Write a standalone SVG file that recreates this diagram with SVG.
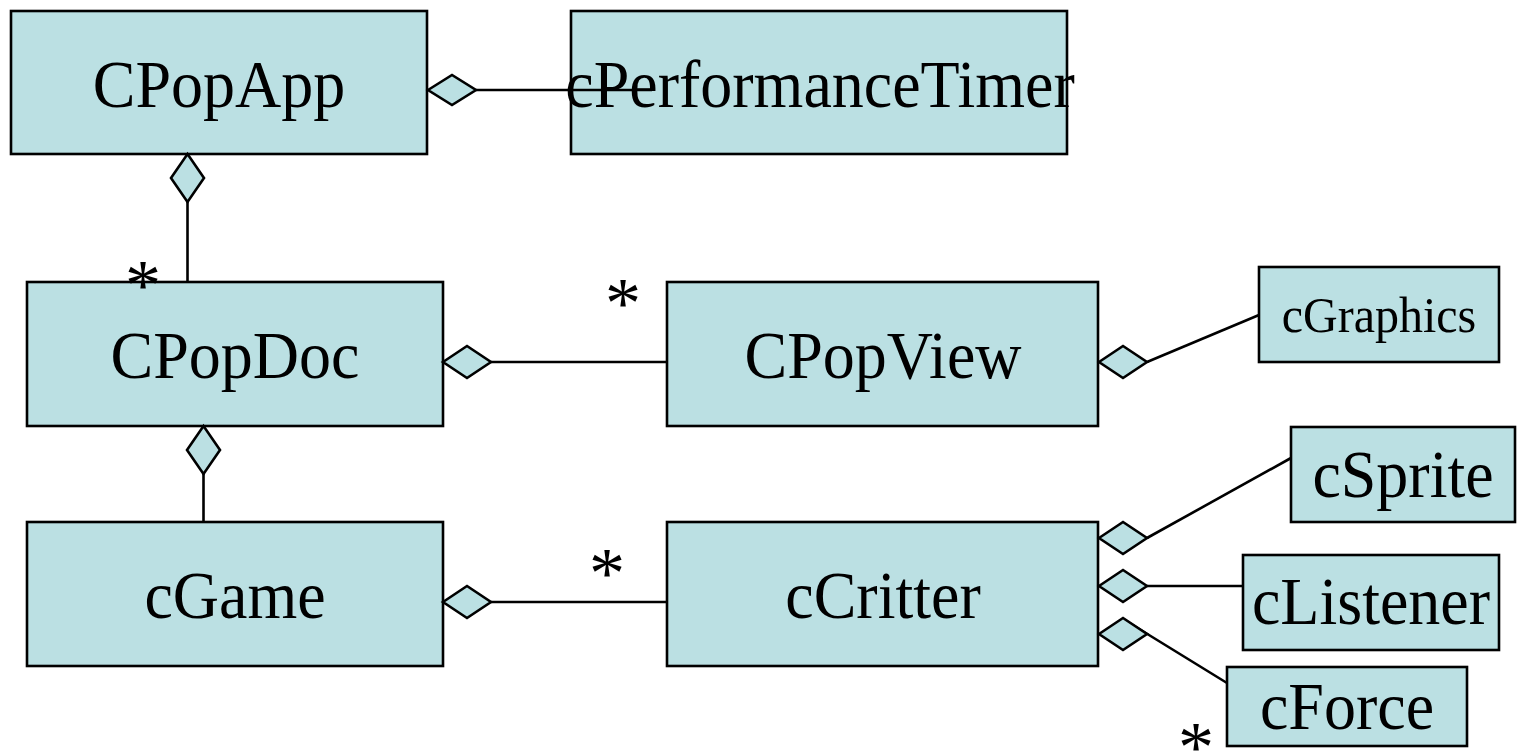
<svg xmlns="http://www.w3.org/2000/svg" width="1521" height="752" viewBox="0 0 1521 752">
  <style>
    .box { fill: #BBE0E3; stroke: #000; stroke-width: 2.6; }
    .lbl { font-family: "Liberation Serif", "Times New Roman", serif; font-size: 64px; fill: #000; text-anchor: middle; }
    .small { font-size: 48px; }
    .link { stroke: #000; stroke-width: 2.6; fill: none; }
    .dia { fill: #BBE0E3; stroke: #000; stroke-width: 2.6; stroke-linejoin: miter; }
    .mult { font-family: "Liberation Serif", "Times New Roman", serif; font-size: 72px; fill: #000; text-anchor: middle; }
  </style>
  <rect width="1521" height="752" fill="#fff"/>

  <!-- class boxes; labels are drawn slightly tall, as in the slide font -->
  <g id="CPopApp">
    <rect class="box" x="11" y="11" width="416" height="143"/>
    <text class="lbl" transform="translate(219,107) scale(1,1.07)">CPopApp</text>
  </g>
  <g id="cPerformanceTimer">
    <rect class="box" x="571" y="11" width="496" height="143"/>
    <text class="lbl" transform="translate(820,107) scale(1,1.07)">cPerformanceTimer</text>
  </g>
  <g id="CPopDoc">
    <rect class="box" x="27" y="282" width="416" height="144"/>
    <text class="lbl" transform="translate(235,378) scale(1,1.07)">CPopDoc</text>
  </g>
  <g id="CPopView">
    <rect class="box" x="667" y="282" width="431" height="144"/>
    <text class="lbl" transform="translate(883,378) scale(1,1.07)">CPopView</text>
  </g>
  <g id="cGraphics">
    <rect class="box" x="1259" y="267" width="240" height="95"/>
    <text class="lbl small" transform="translate(1379,332) scale(1,1.07)">cGraphics</text>
  </g>
  <g id="cGame">
    <rect class="box" x="27" y="522" width="416" height="144"/>
    <text class="lbl" transform="translate(235,618) scale(1,1.07)">cGame</text>
  </g>
  <g id="cCritter">
    <rect class="box" x="667" y="522" width="431" height="144"/>
    <text class="lbl" transform="translate(883,618) scale(1,1.07)">cCritter</text>
  </g>
  <g id="cSprite">
    <rect class="box" x="1291" y="427" width="224" height="95"/>
    <text class="lbl" transform="translate(1403,497) scale(1,1.07)">cSprite</text>
  </g>
  <g id="cListener">
    <rect class="box" x="1243" y="555" width="256" height="95"/>
    <text class="lbl" transform="translate(1371,624) scale(1,1.07)">cListener</text>
  </g>
  <g id="cForce">
    <rect class="box" x="1227" y="667" width="240" height="79"/>
    <text class="lbl" transform="translate(1347,729) scale(1,1.07)">cForce</text>
  </g>

  <!-- aggregation links: diamond at the owner's side -->
  <g id="connectors">
    <line class="link" x1="476" y1="90" x2="652" y2="90"/>
    <polygon class="dia" points="428,90 452,75 476,90 452,105"/>
    <line class="link" x1="187.5" y1="202" x2="187.5" y2="282"/>
    <polygon class="dia" points="187.5,154 204,178 187.5,202 171,178"/>
    <line class="link" x1="491" y1="362" x2="667" y2="362"/>
    <polygon class="dia" points="443,362 467,346 491,362 467,378"/>
    <line class="link" x1="1147" y1="362" x2="1259" y2="315"/>
    <polygon class="dia" points="1099,362 1123,346 1147,362 1123,378"/>
    <line class="link" x1="203.5" y1="474" x2="203.5" y2="522"/>
    <polygon class="dia" points="203.5,426 220,450 203.5,474 187,450"/>
    <line class="link" x1="491" y1="602" x2="667" y2="602"/>
    <polygon class="dia" points="443,602 467,586 491,602 467,618"/>
    <line class="link" x1="1147" y1="538" x2="1291" y2="458"/>
    <polygon class="dia" points="1099,538 1123,522 1147,538 1123,554"/>
    <line class="link" x1="1147" y1="586" x2="1243" y2="586"/>
    <polygon class="dia" points="1099,586 1123,570 1147,586 1123,602"/>
    <line class="link" x1="1123" y1="619" x2="1227" y2="683"/>
    <polygon class="dia" points="1099,634 1123,618 1147,634 1123,650"/>
  </g>

  <g id="multiplicities">
    <text class="mult" x="143" y="309">*</text>
    <text class="mult" x="623" y="327">*</text>
    <text class="mult" x="607" y="597">*</text>
    <text class="mult" x="1196" y="771">*</text>
  </g>
</svg>
